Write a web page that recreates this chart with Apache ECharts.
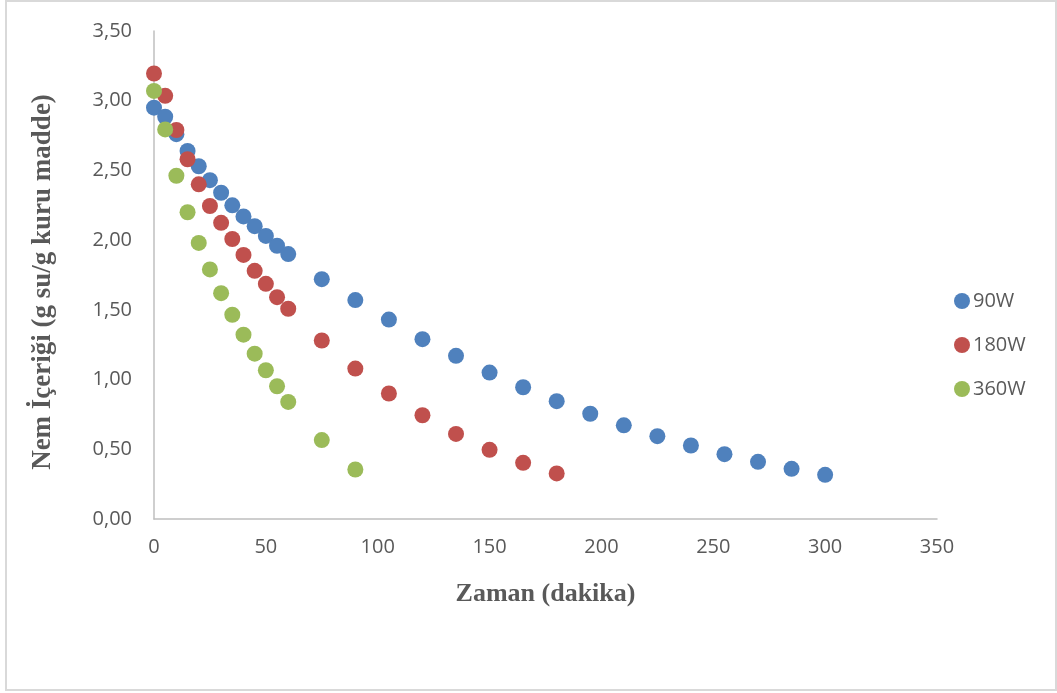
<!DOCTYPE html>
<html>
<head>
<meta charset="utf-8">
<script src="https://cdn.jsdelivr.net/npm/echarts@6/dist/echarts.min.js"></script>
<style>
  html, body { margin: 0; padding: 0; background: #fff; }
  #chart { width: 1057px; height: 693px; }
</style>
</head>
<body>
<div id="chart"></div>
<script>
// zaman (dakika)
var time90 = [0, 5, 10, 15, 20, 25, 30, 35, 40, 45, 50, 55, 60, 75, 90, 105, 120, 135, 150, 165, 180, 195, 210, 225, 240, 255, 270, 285, 300];
var time180 = [0, 5, 10, 15, 20, 25, 30, 35, 40, 45, 50, 55, 60, 75, 90, 105, 120, 135, 150, 165, 180];
var time360 = [0, 5, 10, 15, 20, 25, 30, 35, 40, 45, 50, 55, 60, 75, 90];

// nem içeriği (g su/g kuru madde)
var nem90 = [2.95, 2.885, 2.76, 2.64, 2.53, 2.43, 2.34, 2.25, 2.17, 2.10, 2.03, 1.96, 1.90, 1.72, 1.57, 1.43, 1.29, 1.17, 1.05, 0.945, 0.845, 0.755, 0.672, 0.594, 0.527, 0.465, 0.41, 0.36, 0.317];
var nem180 = [3.195, 3.035, 2.79, 2.58, 2.40, 2.245, 2.124, 2.008, 1.894, 1.78, 1.687, 1.591, 1.508, 1.28, 1.079, 0.90, 0.744, 0.61, 0.496, 0.403, 0.327];
var nem360 = [3.07, 2.794, 2.462, 2.20, 1.98, 1.79, 1.62, 1.465, 1.322, 1.186, 1.067, 0.952, 0.84, 0.566, 0.355];

var seriesNames = ['90W', '180W', '360W'];
var seriesColors = ['#4f81bd', '#c0504d', '#9bbb59'];

function pairs(xs, ys) {
  return xs.map(function (x, i) { return [x, ys[i]]; });
}

var chart = echarts.init(document.getElementById('chart'));

var option = {
  animation: false,
  color: seriesColors,
  grid: {
    left: 154,
    right: 120,
    top: 31,
    bottom: 174,
    containLabel: false
  },
  // dış çerçeve
  graphic: [{
    type: 'rect',
    shape: { x: 6, y: 1, width: 1050, height: 689 },
    style: { fill: 'none', stroke: '#d9d9d9', lineWidth: 2 },
    silent: true
  }],
  legend: {
    orient: 'vertical',
    left: 949,
    top: 286,
    itemWidth: 16,
    itemHeight: 16,
    itemGap: 24,
    icon: 'circle',
    textStyle: { fontFamily: 'Open Sans', fontSize: 20, color: '#595959', padding: [0, 0, 0, -2] },
    data: seriesNames
  },
  xAxis: {
    type: 'value',
    min: 0,
    max: 350,
    interval: 50,
    name: 'Zaman (dakika)',
    nameLocation: 'middle',
    nameGap: 62,
    nameTextStyle: { fontFamily: 'Liberation Serif', fontWeight: 'bold', fontSize: 26, color: '#595959' },
    axisLine: { show: true, lineStyle: { color: '#bfbfbf', width: 1.5 } },
    axisTick: { show: false },
    splitLine: { show: false },
    axisLabel: { fontFamily: 'Open Sans', fontSize: 20, color: '#595959', margin: 18 }
  },
  yAxis: {
    type: 'value',
    min: 0,
    max: 3.5,
    interval: 0.5,
    name: 'Nem İçeriği (g su/g kuru madde)',
    nameLocation: 'middle',
    nameGap: 97,
    nameTextStyle: { fontFamily: 'Liberation Serif', fontWeight: 'bold', fontSize: 27, color: '#595959', padding: [0, 14, 0, 0] },
    axisLine: { show: true, lineStyle: { color: '#bfbfbf', width: 1.5 } },
    axisTick: { show: false },
    splitLine: { show: false },
    axisLabel: {
      fontFamily: 'Open Sans', fontSize: 20, color: '#595959', margin: 22,
      formatter: function (v) { return v.toFixed(2).replace('.', ','); }
    }
  },
  series: [
    { name: seriesNames[0], type: 'scatter', symbolSize: 16, itemStyle: { opacity: 1 }, data: pairs(time90, nem90) },
    { name: seriesNames[1], type: 'scatter', symbolSize: 16, itemStyle: { opacity: 1 }, data: pairs(time180, nem180) },
    { name: seriesNames[2], type: 'scatter', symbolSize: 16, itemStyle: { opacity: 1 }, data: pairs(time360, nem360) }
  ]
};

chart.setOption(option);
</script>
</body>
</html>
